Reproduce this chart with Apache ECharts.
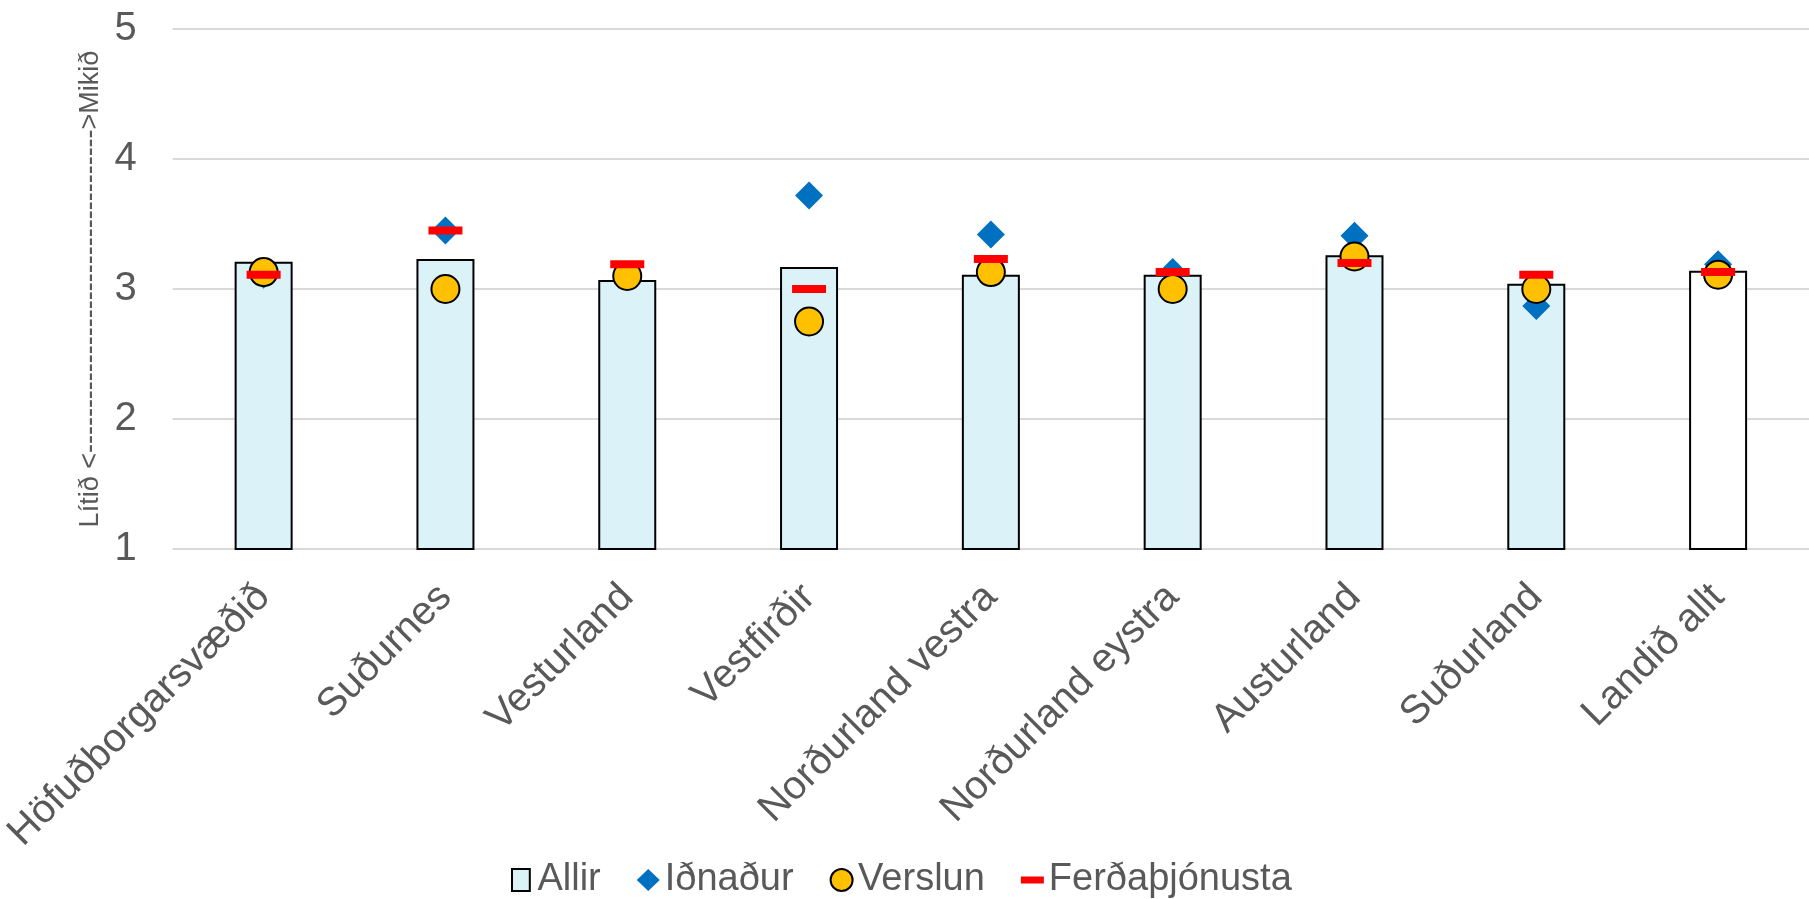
<!DOCTYPE html>
<html>
<head>
<meta charset="utf-8">
<title>Landshlutar</title>
<script src="https://cdn.jsdelivr.net/npm/echarts@6/dist/echarts.min.js"></script>
<style>
	html, body { margin: 0; padding: 0; background: #fff; }
	#myChart { width: 1809px; height: 899px; }
</style>
</head>
<body>
<div id="myChart"></div>
<script>
	// flokkar og gildi lesin af myndinni
	var categories = ['Höfuðborgarsvæðið', 'Suðurnes', 'Vesturland', 'Vestfirðir', 'Norðurland vestra', 'Norðurland eystra', 'Austurland', 'Suðurland', 'Landið allt'];
	var allir = [3.21, 3.23, 3.07, 3.17, 3.11, 3.11, 3.26, 3.04, 3.14];
	var idnadur = [3.11, 3.45, 3.10, 3.72, 3.42, 3.13, 3.41, 2.87, 3.19];
	var verslun = [3.13, 3.00, 3.10, 2.75, 3.13, 3.00, 3.25, 3.00, 3.11];
	var ferdathjonusta = [3.11, 3.45, 3.19, 3.00, 3.23, 3.13, 3.20, 3.11, 3.13];
	var yTicks = [1, 2, 3, 4, 5];

	var font = 'Liberation Sans, Arial, sans-serif';
	var grey = '#595959';

	var myChart = echarts.init(document.getElementById('myChart'));
	myChart.setOption({
		animation: false,
		grid: {
			left: 165,
			right: -11,
			top: 29,
			bottom: 350
		},
		legend: {
			left: 506,
			top: 856,
			itemWidth: 23,
			itemHeight: 22,
			itemGap: 36,
			textStyle: { fontSize: 38, color: grey, fontFamily: font },
			data: [
				{ name: 'Allir', icon: 'path://M0,0H17V21H0Z' },
				{ name: 'Iðnaður', icon: 'diamond' },
				{ name: 'Verslun', icon: 'circle' },
				{ name: 'Ferðaþjónusta', icon: 'path://M0,0H23V7H0Z' }
			]
		},
		xAxis: {
			type: 'category',
			data: categories,
			axisTick: { show: false },
			axisLine: { show: false },
			axisLabel: {
				rotate: 45,
				margin: 42,
				fontSize: 40,
				color: grey,
				fontFamily: font,
				interval: 0
			}
		},
		yAxis: {
			type: 'value',
			min: yTicks[0],
			max: yTicks[yTicks.length - 1],
			interval: 1,
			name: 'Lítið <' + '-'.repeat(36) + '>Mikið',
			nameLocation: 'middle',
			nameGap: 68,
			nameTextStyle: { fontSize: 27, color: grey, fontFamily: font },
			axisLine: { show: false },
			axisTick: { show: false },
			axisLabel: { fontSize: 40, color: grey, fontFamily: font, margin: 36 },
			splitLine: { lineStyle: { color: '#D9D9D9', width: 2 } }
		},
		series: [{
				name: 'Allir',
				type: 'bar',
				barWidth: 58,
				itemStyle: { color: '#DBF3F8', borderColor: '#000', borderWidth: 2 },
				data: allir.map(function (v, i) {
					// síðasti dálkurinn (Landið allt) er hvítur
					return i === categories.length - 1 ? { value: v, itemStyle: { color: '#FFFFFF' } } : v;
				})
			},
			{
				name: 'Iðnaður',
				type: 'scatter',
				symbol: 'diamond',
				symbolSize: [28, 28],
				itemStyle: { color: '#0070C0', opacity: 1 },
				data: idnadur
			},
			{
				name: 'Verslun',
				type: 'scatter',
				symbol: 'circle',
				symbolSize: 28,
				itemStyle: { color: '#FFC000', borderColor: '#000', borderWidth: 2, opacity: 1 },
				data: verslun
			},
			{
				name: 'Ferðaþjónusta',
				type: 'scatter',
				symbol: 'rect',
				symbolSize: [34, 8],
				itemStyle: { color: '#FF0000', opacity: 1 },
				data: ferdathjonusta
			}
		]
	});
</script>
</body>
</html>
